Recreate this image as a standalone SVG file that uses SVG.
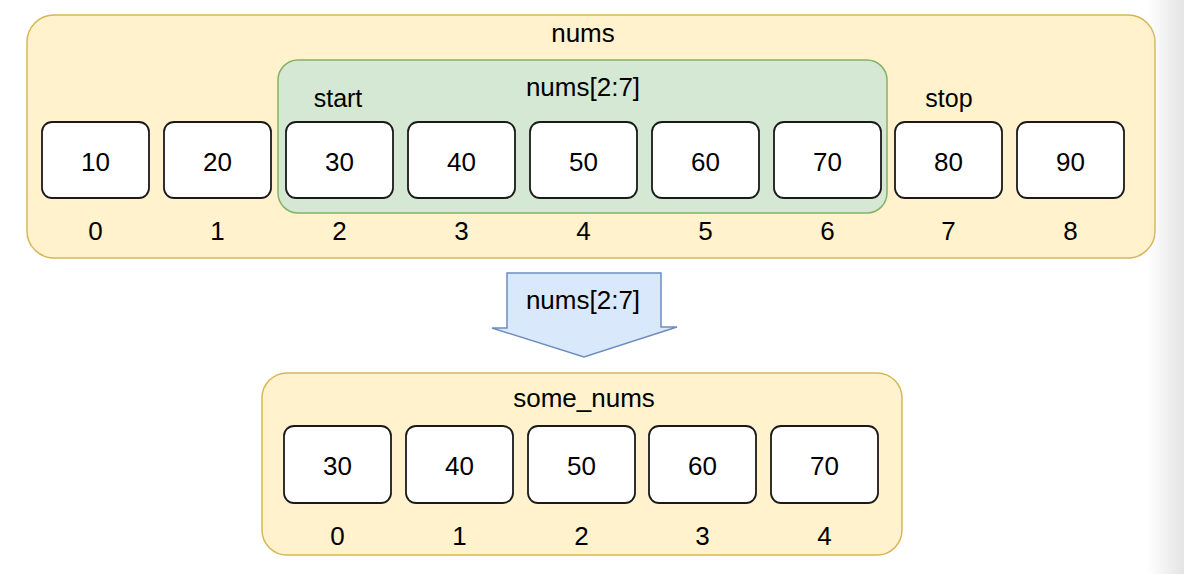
<svg xmlns="http://www.w3.org/2000/svg" width="1184" height="574" viewBox="0 0 1184 574">
<defs>
<style>
.t{font-family:"Liberation Sans",Arial,sans-serif;font-size:26px;fill:#000;text-anchor:middle}
.s{font-size:25px}
.yel{fill:#fff2cc;stroke:#d6b656;stroke-width:1.5}
.grn{fill:#d5e8d4;stroke:#82b366;stroke-width:1.5}
.cell{fill:#fff;stroke:#1a1a1a;stroke-width:1.8}
.arr{fill:#dae8fc;stroke:#6c8ebf;stroke-width:1.5}
</style>
<linearGradient id="shade" x1="0" y1="0" x2="1" y2="0">
<stop offset="0" stop-color="#d8d8d8" stop-opacity="0"/>
<stop offset="1" stop-color="#d8d8d8" stop-opacity="0.7"/>
</linearGradient>
</defs>
<rect width="1184" height="574" fill="#fff"/>
<g id="nums">
<rect class="yel" x="27" y="15" width="1128" height="243" rx="27"/>
<text class="t" x="583" y="42">nums</text>
</g>
<g id="slice">
<rect class="grn" x="278" y="60" width="609" height="153" rx="20"/>
<text class="t" x="583" y="96">nums[2:7]</text>
</g>
<g id="labels">
<text class="t s" x="338" y="107">start</text>
<text class="t s" x="949" y="107">stop</text>
</g>
<g id="top-cells">
<g id="c0"><rect class="cell" x="42" y="122" width="107" height="76" rx="10"/><text class="t" x="95.5" y="171">10</text><text class="t" x="95.5" y="240">0</text></g>
<g id="c1"><rect class="cell" x="164" y="122" width="107" height="76" rx="10"/><text class="t" x="217.5" y="171">20</text><text class="t" x="217.5" y="240">1</text></g>
<g id="c2"><rect class="cell" x="286" y="122" width="107" height="76" rx="10"/><text class="t" x="339.5" y="171">30</text><text class="t" x="339.5" y="240">2</text></g>
<g id="c3"><rect class="cell" x="408" y="122" width="107" height="76" rx="10"/><text class="t" x="461.5" y="171">40</text><text class="t" x="461.5" y="240">3</text></g>
<g id="c4"><rect class="cell" x="530" y="122" width="107" height="76" rx="10"/><text class="t" x="583.5" y="171">50</text><text class="t" x="583.5" y="240">4</text></g>
<g id="c5"><rect class="cell" x="652" y="122" width="107" height="76" rx="10"/><text class="t" x="705.5" y="171">60</text><text class="t" x="705.5" y="240">5</text></g>
<g id="c6"><rect class="cell" x="774" y="122" width="107" height="76" rx="10"/><text class="t" x="827.5" y="171">70</text><text class="t" x="827.5" y="240">6</text></g>
<g id="c7"><rect class="cell" x="895" y="122" width="107" height="76" rx="10"/><text class="t" x="948.5" y="171">80</text><text class="t" x="948.5" y="240">7</text></g>
<g id="c8"><rect class="cell" x="1017" y="122" width="107" height="76" rx="10"/><text class="t" x="1070.5" y="171">90</text><text class="t" x="1070.5" y="240">8</text></g>
</g>
<g id="connectors">
<g id="arrow">
<path class="arr" d="M507 273 L661 273 L661 327 L677 327 L584 357 L492 328 L507 328 Z"/>
<text class="t" x="583" y="309">nums[2:7]</text>
</g>
</g>
<g id="some_nums">
<rect class="yel" x="262" y="373" width="640" height="182" rx="25"/>
<text class="t" x="584" y="407">some_nums</text>
</g>
<g id="bottom-cells">
<g id="b0"><rect class="cell" x="284" y="426" width="107" height="77" rx="10"/><text class="t" x="337.5" y="475">30</text><text class="t" x="337.5" y="545">0</text></g>
<g id="b1"><rect class="cell" x="406" y="426" width="107" height="77" rx="10"/><text class="t" x="459.5" y="475">40</text><text class="t" x="459.5" y="545">1</text></g>
<g id="b2"><rect class="cell" x="528" y="426" width="107" height="77" rx="10"/><text class="t" x="581.5" y="475">50</text><text class="t" x="581.5" y="545">2</text></g>
<g id="b3"><rect class="cell" x="649" y="426" width="107" height="77" rx="10"/><text class="t" x="702.5" y="475">60</text><text class="t" x="702.5" y="545">3</text></g>
<g id="b4"><rect class="cell" x="771" y="426" width="107" height="77" rx="10"/><text class="t" x="824.5" y="475">70</text><text class="t" x="824.5" y="545">4</text></g>
</g>
<rect x="1148" y="0" width="36" height="574" fill="url(#shade)"/>
</svg>
